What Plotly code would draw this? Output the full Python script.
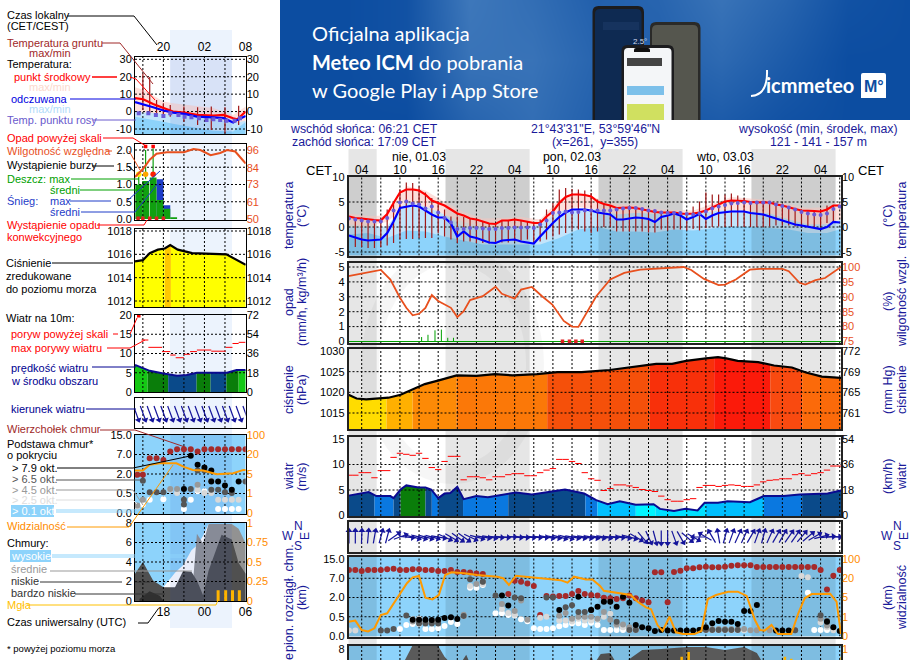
import numpy as np
import plotly.graph_objects as go

W, H = 910, 660
FONT = "Liberation Sans"
NAVY = "#1a1a9a"

# ---------- data, right hand (3 day) panels ----------
hours = list(range(2, 80))
t_mid = [2.1, 1.8, 1.7, 1.5, 1.4, 1.3, 2.6, 4.8, 6.9, 7.5, 7.5, 7.3, 6.5, 5.3, 4.8, 4.3, 3.5, 2.7, 2.3, 1.7,
         1.5, 1.1, 0.7, 0.6, 1.3, 1.3, 1.5, 1.3, 1.0, 0.8, 0.8, 2.1, 3.1, 4.8, 6.0, 6.5, 6.5, 6.4, 6.1, 5.1,
         4.6, 4.3, 3.8, 3.9, 3.9, 3.8, 3.5, 3.3, 3.0, 2.9, 2.9, 2.9, 2.7, 2.6, 2.7, 2.9, 3.3, 3.9, 4.5, 5.1,
         5.3, 5.3, 5.2, 5.0, 4.9, 4.9, 4.9, 4.5, 4.3, 3.9, 3.6, 3.3, 3.3, 3.2, 3.1, 3.5, 4.3, 4.3]
t_feel = [-1.7, -2.1, -2.5, -2.7, -2.6, -2.5, -1.2, 1.1, 3.8, 4.1, 4.3, 4.1, 3.3, 2.5, 1.9, 1.9, 0.7, -1.9, -0.9, -1.9,
          -2.2, -2.7, -3.1, -3.2, -2.7, -2.6, -2.5, -2.9, -3.1, -3.3, -1.9, -0.5, 0.8, 2.0, 2.9, 3.5, 3.5, 3.5, 3.3, 2.9,
          2.7, 2.5, 1.5, 1.5, 1.7, 1.9, 1.8, 1.6, 1.0, 2.0, 2.3, 2.7, 2.3, 1.5, 2.0, 2.6, 1.6, 2.3, 2.8, 3.0,
          3.1, 3.1, 3.1, 2.8, 2.7, 2.5, 2.1, 1.7, 1.3, 0.9, 0.5, 0.3, 0.1, -0.1, -0.4, 0.0, 1.0, 0.9]
t_dew = [1.7, 1.5, 1.3, 1.1, 1.1, 1.1, 1.8, 3.3, 4.9, 5.1, 4.7, 4.5, 3.7, 4.1, 2.9, 1.8, 0.9, -0.4, -0.4, -0.2,
         -0.2, -0.3, -0.4, -0.4, -0.2, -0.2, -0.1, -0.1, -0.1, -0.2, 0.5, 1.3, 2.8, 2.9, 3.1, 2.9, 3.0, 3.3, 3.3, 3.3,
         3.3, 3.3, 3.5, 3.7, 3.8, 3.8, 3.6, 3.3, 3.2, 2.9, 2.8, 2.8, 2.8, 2.6, 2.5, 2.7, 3.1, 3.7, 4.1, 4.4,
         4.7, 4.8, 4.9, 4.8, 4.9, 4.9, 4.9, 4.5, 4.2, 3.9, 3.5, 3.0, 2.7, 2.5, 2.4, 2.7, 3.6, 4.1]
ground_hours = list(range(3, 79))
ground_max = [1.5, 1.3, 1.3, 1.3, 1.3, 3.5, 5.1, 7.5, 8.9, 8.8, 8.1, 6.9, 5.8, 4.8, 3.5, 2.1, 2.1, 2.0, 1.6, 1.5,
              1.0, 0.7, 0.6, 1.3, 1.3, 1.5, 1.3, 1.0, 0.8, 1.5, 3.5, 4.8, 7.5, 7.8, 7.6, 7.5, 7.3, 6.8, 5.5, 4.8,
              4.1, 3.8, 3.9, 3.8, 3.6, 3.3, 3.1, 3.1, 3.0, 3.1, 3.0, 3.1, 2.8, 4.1, 5.1, 6.9, 6.5, 6.5, 6.5, 6.7,
              6.3, 5.8, 5.0, 5.0, 5.0, 5.0, 4.5, 4.1, 3.8, 3.5, 3.3, 3.3, 3.2, 3.6, 4.3, 4.3]
ground_min = [-4.0, -4.0, -4.2, -4.2, -4.0, -3.7, -3.2, -2.5, -2.4, -2.4, -2.2, -2.2, -2.2, -1.2, -1.9, -2.5, -3.2, -2.9, -2.9, -3.2,
              -3.2, -3.3, -3.3, -3.1, -3.1, -2.9, -2.7, -2.5, -3.2, -2.9, -2.5, -1.9, -1.5, -1.2, -0.5, -0.5, -0.9, -1.2, -0.9, 0.0,
              0.0, -0.9, -0.9, -0.9, -0.9, -0.9, -1.1, -1.1, -0.5, -0.7, -0.5, -0.5, -0.7, -0.4, -0.7, -0.2, 0.0, 0.1, 0.0, 0.0,
              0.1, 0.0, 0.0, 0.0, 0.0, 0.1, 0.3, 0.3, 0.3, 0.1, 0.1, 0.0, -0.2, 0.1, 0.8, 0.8]
band_hours = [1.9, 5, 8, 11, 14, 17, 20, 23, 26, 29, 32, 35, 38, 41, 44, 47, 50, 53, 56, 59, 62, 65, 68, 71, 74, 77, 79.2]
pink_top = [2.7, 2.2, 2.3, 8.2, 7.3, 5.0, 3.0, 1.7, 1.8, 2.0, 1.5, 5.5, 7.0, 5.7, 4.6, 4.4, 3.6, 3.4, 3.3, 4.6, 6.0, 5.7, 5.4, 4.5, 3.8, 4.0, 4.8]
pink_bot = [0.5, 0.3, 1.0, 4.5, 4.0, 2.5, 1.0, 0.0, 0.0, 0.0, 0.3, 3.0, 4.0, 3.5, 2.5, 2.8, 2.6, 2.0, 2.0, 3.0, 3.5, 3.1, 2.7, 1.5, 0.5, 0.5, 1.5]
feel_top = [0.0, 0.0, 0.1, 5.1, 4.1, 2.5, 0.0, 0.0, 0.0, 0.0, 0.5, 3.1, 3.8, 3.5, 2.5, 2.8, 2.6, 2.8, 2.5, 3.1, 3.5, 3.1, 2.7, 1.5, 0.5, 0.5, 1.5]
feel_bot = [-1.5, -1.2, -2.2, -0.7, -0.9, -1.9, -2.7, -3.5, -3.5, -3.5, -3.5, -2.2, -0.5, 0.0, -0.9, -0.9, -1.1, -0.5, -0.7, -0.3, 0.1, 0.0, -0.2, -0.5, -1.2, -1.2, -0.4]

rh_hours = [1.9, 4, 7, 8.5, 10, 11, 12, 13, 14, 15, 16, 18, 19, 20, 21, 23, 25, 26, 28, 29, 30.7, 32.3, 33.9, 35.7, 37, 38,
            39.5, 40.8, 43, 45.2, 47.7, 51.5, 54.5, 55.7, 57.7, 60, 61, 62.7, 64.9, 66.5, 70, 71, 72.7, 73.6, 75.2, 76.7, 79.2]
rh_vals = [96.9, 97.8, 99.0, 95.8, 89.7, 86.3, 83.8, 84.3, 86.3, 90.6, 88.6, 86.3, 83.2, 85.2, 88.9, 90.2, 93.4, 91.0, 89.4, 92.4, 93.3, 90.2, 87.4, 81.9, 80.0, 79.9,
           85.2, 90.2, 95.8, 98.0, 99.1, 99.7, 100.0, 99.0, 96.0, 93.9, 94.1, 95.8, 99.1, 99.4, 99.4, 98.6, 94.7, 94.1, 95.6, 96.3, 100.0]
rain_hours = [13.4, 14.4, 15.5, 16.5, 17.5, 18.4]
rain_vals = [0.3, 0.45, 0.75, 0.8, 0.25, 0.25]
conv_hours = [35.5, 36.6, 37.6, 38.6]

press_hours = [1.93, 3.2, 4.7, 8.2, 10.1, 12, 13.9, 16.1, 18.9, 22, 24.9, 27.7, 31.5, 34.7, 38.5, 42.9, 46.7, 50.2, 52.7, 54.9, 58, 59.9, 61.2, 63, 66.2, 68.7, 71.5, 73.7, 76.2, 79.2]
press_vals = [1019.4, 1018.5, 1018.3, 1018.7, 1019.4, 1020.7, 1022.0, 1022.9, 1024.1, 1024.0, 1024.4, 1024.1, 1024.4, 1024.9, 1024.9, 1025.4, 1026.1, 1026.9, 1026.9, 1027.6, 1028.2, 1028.5, 1028.2, 1027.6, 1027.3, 1026.5, 1026.0, 1024.8, 1023.8, 1023.5]
press_edges = [1.93, 7.9, 12, 18.9, 33.1, 49.2, 59.3, 68.1, 73.1, 79.2]
press_cols = ["#ffdc00", "#ffb000", "#fd8a06", "#fb7808", "#f5500a", "#f8300a", "#fb1a0a", "#f94a10", "#fb6a0a"]

wind_hours = [1.93, 4, 5.1, 6.3, 8.5, 9, 10.1, 11, 12.9, 14, 14.9, 16, 17, 17.9, 19, 20, 22, 23.8, 26, 28.2, 30.7, 32.9, 35.9, 38.9, 40.8, 42.6, 44.5, 47, 49.8, 50.8, 53, 54.8, 56.7, 57.8, 59.9, 61.4, 64.9, 67.1, 70.2, 72.7, 77.1, 79.2]
wind_vals = [3.9, 4.3, 4.6, 3.8, 3.8, 3.4, 5.1, 5.9, 5.5, 5.5, 5.1, 3.4, 4.3, 4.4, 5.6, 3.2, 3.8, 3.6, 4.1, 4.5, 4.1, 4.5, 5.1, 4.3, 3.0, 2.2, 2.8, 2.1, 2.2, 1.3, 0.9, 1.3, 1.0, 2.5, 2.5, 2.8, 2.6, 3.8, 3.8, 4.1, 4.3, 4.9]
wind_edges = [1.93, 6, 9, 10.1, 14, 15, 16, 19.9, 27, 39.1, 41, 47, 50.1, 58, 67.1, 73.1, 79.2]
wind_cols = ["#0a4a8a", "#0a78e0", "#0a4a8a", "#0a7d0a", "#0a4a8a", "#0a78e0", "#0a4a8a", "#0a78e0", "#0a4a8a", "#0a78e0", "#00bfff", "#00f5ff", "#00e0ff", "#00bfff", "#0a78e0", "#0a4a8a"]
gust_vals = [7.9, 7.9, 8.4, 8.4, 7.4, 8.8, 8.8, 11.4, 12.2, 12.0, 11.8, 12.2, 11.2, 9.4, 9.0, 10.6, 11.6, 11.6, 7.0, 7.6,
             7.6, 7.4, 7.0, 7.6, 7.6, 8.0, 8.2, 8.2, 7.8, 7.8, 8.4, 8.9, 9.2, 11.0, 11.0, 10.6, 10.2, 8.4, 7.2, 6.9,
             4.9, 5.3, 6.0, 6.0, 5.8, 5.5, 5.1, 4.9, 4.7, 3.8, 3.1, 2.8, 2.8, 3.1, 3.3, 5.5, 5.9, 5.9, 5.7, 5.9,
             6.0, 5.9, 5.7, 5.7, 6.0, 6.6, 6.9, 7.0, 7.2, 7.2, 8.0, 8.2, 7.9, 8.2, 8.4, 8.9, 9.7, 9.7]
wind_dir = [0, 0, 2, 5, 10, 15, 15, 55, 70, 95, 105, 105, 105, 105, 100, 115, 120, 125, 125, 115,
            105, 100, 100, 95, 95, 90, 95, 95, 95, 95, 95, 100, 100, 105, 105, 100, 100, 100, 100, 100,
            100, 95, 95, 100, 105, 120, 140, 155, 165, 180, 180, 160, 150, 130, 120, 270, 300, 330, 350, 15,
            20, 25, 25, 30, 20, 15, 25, 30, 30, 35, 35, 40, 50, 60, 75, 85, 90, 95]

# cloud base, y in axis levels (0 = 0 km, 1 = 0.5, 2 = 2, 3 = 7, 4 = 15 km)
top_hours = [2, 3, 4, 5, 6, 7, 8, 9, 10, 11, 12, 13, 14, 15, 16, 17, 18, 19, 20, 21, 22, 23, 27, 28, 29, 30, 31, 32, 33, 34, 35, 36, 37, 38, 39, 40, 41, 42, 43, 44, 45, 46, 47, 48, 49, 50, 51, 52, 53, 54, 55, 56, 57, 58, 59, 60, 61, 62, 63, 64, 65, 66, 67, 68, 69, 70, 71, 72, 73, 74, 75, 76, 77, 78, 79]
top_lvl = [3.43, 3.43, 3.38, 3.43, 3.43, 3.43, 3.47, 3.5, 3.43, 3.43, 3.47, 3.47, 3.43, 3.43, 3.38, 3.38, 3.43, 3.33, 3.33, 3.3, 3.25, 3.22, 2.18, 2.87, 2.82, 2.73, 2.6, 1.09, 2.08, 2.05, 2.08, 2.08, 2.18, 2.34, 2.18, 2.13, 2.1, 1.99, 1.96, 1.92, 1.96, 2.1, 1.96, 1.84, 1.75, 3.31, 3.31, 1.75, 3.33, 3.39, 3.52, 3.52, 3.57, 3.6, 3.57, 3.57, 3.6, 3.65, 3.67, 3.67, 3.67, 3.58, 3.58, 3.58, 3.58, 3.58, 3.58, 3.58, 3.58, 3.58, 3.58, 3.43, 2.42, 3.13, 3.43]
black_hours = [12, 13, 14, 15, 16, 17, 18, 19, 26, 27, 35, 38, 40, 41, 42, 43, 44, 45, 46, 47, 48, 49, 50, 51, 52, 53, 54, 55, 56, 57, 58, 59, 60, 61, 62, 63, 64, 65, 66, 69, 70, 71, 77, 78, 79]
black_lvl = [0.85, 0.85, 0.85, 0.83, 0.85, 0.93, 0.98, 0.88, 2.1, 1.58, 1.35, 2.04, 1.35, 1.52, 1.78, 1.78, 1.52, 2.04, 1.73, 0.57, 0.45, 0.4, 0.26, 0.31, 0.28, 0.28, 0.28, 0.28, 0.28, 0.31, 0.45, 0.66, 0.78, 0.74, 0.74, 0.62, 1.3, 1.3, 1.61, 0.28, 0.28, 0.28, 0.74, 0.45, 0.26]
dark_hours = [7, 8, 9, 11, 13, 14, 15, 16, 20, 21, 23, 25, 28, 29, 33, 34, 36, 37, 38, 39, 40, 44, 46, 47, 57, 58, 59, 60, 61, 62, 63, 72, 76, 77]
dark_lvl = [0.28, 0.28, 0.36, 1.06, 0.65, 0.65, 0.65, 0.65, 1.04, 2.95, 2.82, 2.1, 2.0, 1.96, 2.0, 2.0, 1.49, 1.6, 1.25, 1.25, 1.35, 0.74, 0.31, 0.31, 0.31, 0.31, 0.31, 0.31, 0.31, 0.31, 0.31, 0.3, 1.08, 0.78]
gray_hours = [12, 13, 14, 15, 16, 20, 22, 23, 26, 28, 29, 30, 35, 36, 37, 38, 39, 40, 41, 42, 43, 44, 45, 46, 47, 58, 59, 60, 61, 62, 63, 64, 65, 66, 68, 72, 76, 77]
gray_lvl = [0.75, 0.75, 0.75, 0.75, 0.75, 1.1, 2.7, 2.82, 1.66, 1.3, 1.85, 0.85, 1.05, 1.2, 0.9, 1.0, 1.0, 1.0, 0.9, 1.25, 0.85, 0.6, 0.6, 0.45, 0.36, 0.36, 0.36, 0.36, 0.36, 0.36, 0.36, 0.36, 0.3, 0.3, 0.3, 0.3, 0.9, 0.55]
light_hours = [2, 3, 12, 13, 14, 15, 16, 21, 23, 26, 27, 28, 32, 33, 35, 36, 37, 38, 39, 40, 41, 42, 43, 44, 45, 46, 47, 57, 58, 59, 60, 61, 62, 63, 64, 73, 74, 76, 77, 78]
light_lvl = [0.28, 0.28, 0.87, 0.9, 0.7, 0.75, 0.8, 2.6, 2.7, 1.4, 1.2, 1.1, 0.95, 1.0, 0.8, 0.8, 0.75, 0.9, 0.8, 0.8, 0.85, 1.0, 1.15, 0.55, 0.45, 0.35, 0.31, 0.3, 0.3, 0.3, 0.3, 0.3, 0.3, 0.3, 0.3, 3.12, 3.05, 0.7, 0.45, 0.3]
white_hours = [10, 11, 12, 13, 14, 15, 16, 17, 18, 19, 20, 21, 22, 23, 25, 26, 27, 28, 29, 30, 31, 32, 33, 34, 35, 36, 37, 38, 39, 40, 41, 42, 43, 44, 45, 46, 61, 62, 63, 64, 74, 75, 76, 77]
white_lvl = [0.36, 0.57, 0.62, 0.62, 0.36, 0.36, 0.4, 0.52, 0.73, 0.62, 1.04, 2.51, 2.51, 2.65, 1.18, 1.18, 1.09, 1.06, 0.87, 0.76, 0.4, 0.36, 0.36, 0.4, 0.5, 0.57, 0.66, 0.66, 0.57, 0.69, 0.57, 0.31, 0.31, 0.31, 0.31, 0.31, 0.31, 0.31, 0.31, 0.31, 2.25, 0.31, 0.31, 0.31]
vis_hours = [1.93, 3, 4, 5, 6, 7, 8, 10, 11.1, 12, 13, 14, 15.1, 16.1, 17.1, 18.1, 20.1, 22.1, 25.3, 26.2, 27.1, 28.2, 30.2, 32.1, 35.2, 36.3, 37.3, 39.2, 40.2, 41.4, 42, 44.1, 46.2, 47.3, 48.6, 49.4, 50.4, 51.2, 52.3, 53.3, 54.4, 56.2, 57.3, 58.3, 59.6, 61.5, 63, 64.4, 65.7, 66.5, 67.2, 68.3, 69.3, 71.4, 72.5, 73.5, 74.6, 77.5, 78.5, 79.2]
vis_lvl = [0.74, 0.8, 0.31, 0.24, 0.4, 1.09, 1.18, 2.22, 2.74, 3.05, 3.12, 1.99, 1.9, 2.13, 3.17, 3.31, 3.26, 3.17, 3.08, 3.0, 2.65, 3.13, 3.08, 3.0, 2.9, 2.77, 3.08, 2.94, 2.94, 2.6, 2.35, 2.25, 2.13, 1.78, 1.49, 1.39, 0.57, 0.26, 1.0, 0.19, 0.1, 0.1, 0.26, 1.92, 2.13, 2.3, 2.3, 2.08, 0.83, 0.31, 0.28, 0.57, 0.1, 0.1, 1.18, 1.96, 2.18, 2.2, 1.78, 0.1]

cloud_hours = [1.93, 10.5, 12, 16, 17, 18, 19.5, 20.4, 21, 39.6, 40, 40.5, 41.5, 43, 44, 45, 46.5, 48, 51, 55, 58, 61, 64, 66, 67, 79.2]
cloud_top = [6.5, 6.5, 8.4, 8.3, 7.2, 6.5, 6.5, 7.4, 6.5, 6.5, 7.3, 6.5, 7.5, 7.6, 6.5, 6.5, 7.2, 7.9, 8.0, 8.2, 8.2, 7.9, 8.2, 7.6, 6.5, 6.5]
fog_hours = [54.2, 55.3, 70.4, 71.4, 79.3]
fog_vals = [7.2, 7.7, 7.2, 7.0, 7.2]

# ---------- data, left hand (legend) panels ----------
l_thours = [15.85, 17.05, 18.5, 20, 21.4, 23.1, 24.9, 27.3, 28.8, 30.2, 30.8, 32.03]
l_red = [7.7, 7.1, 4.4, 1.9, 0.0, -0.6, -1.9, -2.3, -1.9, -3.8, -4.4, 0.0]
l_blue = [5.4, 4.2, 2.5, 0.6, -0.6, -1.3, -2.9, -3.3, -3.8, -6.3, -4.8, -2.5]
l_dew_hours = [16.4, 17.8, 18.9, 20, 21, 22.2, 23.1, 24.1, 25.2, 26.3, 27.3, 28.3, 29.2, 30.4, 31.2]
l_dew = [-1.0, -1.0, -1.9, -2.5, -1.0, -1.9, -2.9, -3.3, -3.8, -4.8, -4.4, -4.8, -5.2, -5.2, -3.8]
l_bhours = [15.85, 17.05, 20, 21.4, 27.3, 30.2, 32.03]
l_pink_top = [14.0, 12.5, 5.8, 4.8, 2.0, -1.9, 2.9]
l_pale_top = [0.0, -0.5, -1.3, -1.6, -3.8, -6.7, -5.2]
l_sky_top = [-2.9, -3.8, -5.8, -7.0, -11.0, -11.5, -6.0]
l_ghours = [17, 18, 19, 20, 21, 23, 25, 27, 29, 31]
l_gmax = [21.8, 19.8, 6.7, 4.8, 3.8, 2.9, 2.5, 2.9, 2.5, 3.3]
l_gmin = [0.9, -1.0, -1.9, -1.9, -2.9, -5.8, -7.7, -10.6, -12.5, -7.7]
l_rh_hours = [15.85, 17.05, 18, 19, 20.5, 23, 24.4, 25.4, 26.9, 28.3, 29.3, 30.5, 32.03]
l_rh = [78, 83.5, 89.5, 93.5, 94.5, 94.5, 96.7, 96, 92.5, 94, 96, 95, 87]
l_bar_hours = [16.4, 17.4, 18.5, 19.5, 20.5, 21.5]
l_rain = [1.0, 1.1, 1.2, 0.55, 0.3, 0.05]
l_snow = [0.0, 0.0, 0.0, 1.15, 0.4, 0.0]
l_storm_hours = [16.4, 17.4, 18.5]
l_storm_cols = ["#ffee00", "#ffa500", "#ff2000"]
l_over_hours = [17.4, 18.5]
l_conv_hours = [16.3, 17, 18, 19, 20]

l_phours = [15.85, 17, 18, 19.2, 20.2, 21, 22.1, 24.2, 29.2, 32.03]
l_press = [1015.4, 1015.5, 1016.1, 1016.4, 1016.5, 1016.8, 1016.4, 1016.1, 1016.0, 1015.1]
l_press_edges = [15.85, 20.2, 21.1, 32.03]
l_press_cols = ["#ffff00", "#ffc800", "#ffff00"]

l_whours = [15.85, 17.05, 18, 20, 22, 23.4, 24.9, 27.3, 29.3, 30.7, 32.03]
l_wind = [7.0, 6.1, 5.5, 4.8, 4.2, 4.4, 5.0, 5.0, 5.0, 5.7, 5.7]
l_wind_edges = [15.85, 17.7, 20.7, 24.85, 26.9, 29.2, 31, 32.03]
l_wind_cols = ["#14c814", "#0a7d0a", "#0a4a8a", "#0a7d0a", "#0a4a8a", "#0a7d0a", "#14c814"]
l_gust_edges = [16.8, 17.8, 19.8, 21, 21.8, 23, 23.9, 24.9, 27, 29.1, 30.1, 31, 32]
l_gust = [13.5, 11.6, 10.5, 9.6, 8.9, 9.8, 10.5, 10.9, 10.6, 11.6, 12.6, 12.9]
l_dir_hours = list(range(16, 33))
l_dir = [160] * 17

l_top_hours = [16.2, 17, 18, 19, 20, 21, 22, 23, 24, 25, 26, 27, 28, 29, 30, 31, 32]
l_top = [1.96, 1.96, 2.81, 2.81, 2.72, 3.15, 3.27, 3.27, 3.27, 3.15, 3.27, 3.27, 3.27, 3.27, 3.27, 3.27, 3.27]
l_black_hours = [24, 25, 26, 27, 27, 28, 29, 30, 31, 23]
l_black = [2.93, 2.47, 2.33, 2.18, 1.62, 1.62, 1.41, 1.19, 1.62, 1.23]
l_dark_hours = [17, 18, 19, 20, 23, 23, 25, 26, 24, 27, 28, 29, 30, 32]
l_dark = [1.65, 1.07, 1.07, 1.07, 0.68, 0.43, 2.18, 2.18, 1.23, 1.19, 1.19, 1.07, 1.02, 1.62]
l_gray_hours = [16.2, 17, 21, 22, 25, 27]
l_gray = [0.39, 0.68, 1.23, 1.23, 1.45, 1.65]
l_light_hours = [16.2, 21, 22, 25, 26, 27, 28, 29, 30, 31]
l_light = [0.34, 1.19, 1.02, 1.19, 1.02, 1.02, 0.68, 0.68, 0.68, 0.68]
l_white_hours = [17, 18, 20, 23, 24, 25, 26, 27, 28, 29, 30, 31]
l_white = [0.43, 0.68, 0.71, 0.2, 0.68, 1.11, 1.11, 1.11, 0.2, 0.2, 0.2, 0.2]
l_vis_hours = [15.85, 17, 18, 19.5, 21.9, 23.1, 24.3, 25.8, 27.8, 30.2, 31.7, 32.03]
l_vis = [2.18, 2.18, 2.47, 2.55, 2.55, 2.35, 2.21, 2.18, 1.99, 2.04, 2.21, 2.21]

l_chours = [15.85, 17, 18.5, 20, 21.7, 22.9, 24.1, 24.9, 25.8, 26.6, 28.5, 30, 31, 32.03]
l_high = [0, 0, 0, 1.4, 2.9, 3.7, 5.2, 5.7, 6.7, 7.9, 7.9, 7.9, 6.7, 5.9]
l_mid = [0, 0, 0, 0, 0, 0, 0, 6.9, 5.9, 7.9, 7.9, 7.9, 7.4, 5.9]
l_low = [2.8, 4.0, 2.1, 1.4, 1.4, 3.1, 3.0, 2.1, 0.6, 3.1, 6.8, 6.3, 3.9, 2.8]
l_vlow_hours = [16.5, 18, 19.5, 20]
l_vlow = [0.2, 1.0, 0.5, 0.0]
l_fog_hours = [28, 29.1, 30.1, 31.1]
l_fog = [1.1, 1.1, 1.1, 1.1]

banner_shade = [[0, 0, 0.1, 0.9, 0.7, 0.4, 0.5, 0.8, 0.5, 0.1, 0],
                [0, 0, 0.1, 0.8, 0.8, 0.5, 0.4, 0.6, 0.3, 0, 0],
                [0, 0, 0, 0.5, 0.7, 0.4, 0.2, 0.3, 0.1, 0, 0]]

fig = go.Figure()
annots = []
shapes = []


def fx(x):
    return x / W


def fy(y):
    return 1 - y / H


def rng(top, bot, a, b):
    # axis range from two known (value, pixel) pairs
    per_px = (a[0] - b[0]) / (b[1] - a[1])
    return [a[0] - (bot - a[1]) * per_px, a[0] + (a[1] - top) * per_px]


naxis = 0


def panel(x0, x1, top, bot, xrange, yrange, yticks, yshow, rrange, rticks, rshow, rcolor="black",
          xticks=None, xshow=None, xside="bottom", border="#222222", bwidth=1.5, stand=0):
    global naxis
    naxis += 1
    n = naxis
    yl, yr = 2 * n - 1, 2 * n
    xname = "x" if n == 1 else "x%d" % n
    ylname = "y" if yl == 1 else "y%d" % yl
    yrname = "y%d" % yr
    tfont = dict(family=FONT, size=11, color="black")
    fig.layout["xaxis" if n == 1 else "xaxis%d" % n] = dict(
        domain=[fx(x0), fx(x1)], range=xrange, anchor=ylname, side=xside, showgrid=False, zeroline=False,
        showline=True, mirror=True, linecolor=border, linewidth=bwidth, ticks="", ticklabelstandoff=stand,
        tickmode="array", tickvals=xticks or [], ticktext=xshow or [], tickfont=dict(family=FONT, size=12, color="black"))
    fig.layout["yaxis" if yl == 1 else "yaxis%d" % yl] = dict(
        domain=[fy(bot), fy(top)], range=yrange, anchor=xname, showgrid=False, zeroline=False,
        showline=True, mirror=True, linecolor=border, linewidth=bwidth, ticks="",
        tickmode="array", tickvals=yticks, ticktext=yshow, tickfont=tfont)
    fig.layout["yaxis%d" % yr] = dict(
        domain=[fy(bot), fy(top)], range=rrange, anchor=xname, overlaying=ylname, side="right",
        showgrid=False, zeroline=False, ticks="", tickmode="array", tickvals=rticks, ticktext=rshow,
        tickfont=dict(family=FONT, size=11, color=rcolor))
    fig.add_trace(go.Scatter(x=[None], y=[None], xaxis=xname, yaxis=yrname, showlegend=False))
    return dict(x=xname, y=ylname, r=yrname, xr=xrange, yr=yrange, rr=rrange)


def line(p, x, y, color, width=1.0, right=False, dash=None):
    fig.add_trace(go.Scatter(x=x, y=y, xaxis=p["x"], yaxis=p["r"] if right else p["y"], mode="lines",
                             line=dict(color=color, width=width, dash=dash), connectgaps=False,
                             hoverinfo="skip", showlegend=False))


def dots(p, x, y, color, size=6, symbol="circle", right=False, clip=True):
    fig.add_trace(go.Scatter(x=x, y=y, xaxis=p["x"], yaxis=p["r"] if right else p["y"], mode="markers",
                             marker=dict(color=color, size=size, symbol=symbol, line=dict(width=0)),
                             hoverinfo="skip", showlegend=False, cliponaxis=clip))


def area(p, x, hi, lo, color):
    # hi and lo are either a list or one number
    if not isinstance(lo, list):
        lo = [lo] * len(x)
    fig.add_trace(go.Scatter(x=list(x) + list(x)[::-1], y=list(hi) + list(lo)[::-1], xaxis=p["x"], yaxis=p["y"],
                             fill="toself", fillcolor=color, mode="none", hoverinfo="skip", showlegend=False))


def rect(p, a, b, color, lo=None, hi=None):
    lo = p["yr"][0] if lo is None else lo
    hi = p["yr"][1] if hi is None else hi
    area(p, [a, b], [hi, hi], lo, color)


def bands(p, xs, ys, edges, cols, base):
    # fill under a line, colour changes at the edges
    for i, c in enumerate(cols):
        a, b = edges[i], edges[i + 1]
        px = [a] + [h for h in xs if a < h < b] + [b]
        py = np.interp(px, xs, ys).tolist()
        area(p, px, py, base, c)


def grid(p, vx, hy):
    xs, ys = [], []
    for v in vx:
        xs += [v, v, None]
        ys += [p["yr"][0], p["yr"][1], None]
    for v in hy:
        xs += [p["xr"][0], p["xr"][1], None]
        ys += [v, v, None]
    line(p, xs, ys, "black", 1, dash="2px,2px")


def segs(p, edges_a, edges_b, vals, color, width=1.0):
    xs, ys = [], []
    for a, b, v in zip(edges_a, edges_b, vals):
        xs += [a, b, None]
        ys += [v, v, None]
    line(p, xs, ys, color, width)


def vbars(p, x, lo, hi, color, width=1.2):
    xs, ys = [], []
    for h, a, b in zip(x, lo, hi):
        xs += [h, h, None]
        ys += [a, b, None]
    line(p, xs, ys, color, width)


def arrows(p, x, deg, length, px_per_hour, color, size):
    # compass arrows, y axis of the panel is in pixels
    xs, ys, hx, hy = [], [], [], []
    for h, d in zip(x, deg):
        dx = np.sin(np.radians(d)) * length / 2 / px_per_hour
        dy = np.cos(np.radians(d)) * length / 2
        xs += [h - dx, h + dx, None]
        ys += [-dy, dy, None]
        hx.append(h + dx)
        hy.append(dy)
    line(p, xs, ys, color, 1.2)
    fig.add_trace(go.Scatter(x=hx, y=hy, xaxis=p["x"], yaxis=p["y"], mode="markers", hoverinfo="skip", showlegend=False,
                             cliponaxis=False, marker=dict(symbol="triangle-up", size=size, color=color, angle=deg, line=dict(width=0))))


def label(x, y, text, color="black", anchor="left", size=12, angle=0, bg=None, family=FONT):
    annots.append(dict(x=fx(x), y=fy(y), xref="paper", yref="paper", text=text, showarrow=False, xanchor=anchor,
                       yanchor="middle", textangle=angle, bgcolor=bg, borderpad=0,
                       font=dict(family=family, size=size, color=color)))


def leader(pts, color, width=1):
    for (a, b), (c, d) in zip(pts[:-1], pts[1:]):
        shapes.append(dict(type="line", xref="paper", yref="paper", x0=fx(a), y0=fy(b), x1=fx(c), y1=fy(d),
                           line=dict(color=color, width=width), layer="above"))


def box(x0, y0, x1, y1, color, r=0, layer="above"):
    if r:
        a, b, c, d = fx(x0), fy(y0), fx(x1), fy(y1)
        rx, ry = r / W, r / H
        path = "M %f %f L %f %f Q %f %f %f %f L %f %f Q %f %f %f %f L %f %f Z" % (
            a, d, a, b - ry, a, b, a + rx, b, c - rx, b, c, b, c, b - ry, c, d)
        shapes.append(dict(type="path", path=path, xref="paper", yref="paper", fillcolor=color, layer=layer,
                           line=dict(width=0)))
    else:
        shapes.append(dict(type="rect", xref="paper", yref="paper", x0=fx(x0), y0=fy(y0), x1=fx(x1), y1=fy(y1),
                           fillcolor=color, layer=layer, line=dict(width=0)))


# ---------- panel frames ----------
RX0, RX1 = 348.5, 841
RXR = [1.93, 79.2]
LX0, LX1 = 135, 245.7
LXR = [15.85, 32.03]
vgrid = list(range(4, 80, 3))
lgrid = [17, 20, 23, 26, 29]
top_ticks = [h for h in vgrid if (h - 4) % 6 == 0]
top_text = ["%02d" % (h % 24) for h in top_ticks]
NIGHT = [(1.93, 6.35), (17.15, 30.35), (41.15, 54.35), (65.15, 78.35)]
SKY = "#8dd3fb"
DIM = "rgba(0,0,0,0.10)"
LDIM = "rgba(40,80,200,0.10)"

# banner
fig.add_trace(go.Heatmap(z=banner_shade, colorscale=[[0, "#0c4da1"], [1, "#437cbd"]], zmin=0, zmax=1, zsmooth="best",
                         showscale=False, xaxis="x99", yaxis="y99", hoverinfo="skip"))
fig.layout["xaxis99"] = dict(domain=[fx(280), 1], visible=False, anchor="y99", range=[0, 10])
fig.layout["yaxis99"] = dict(domain=[fy(120), 1], visible=False, anchor="x99", range=[2, 0])

# day/night strips behind everything
for a, b in NIGHT:
    x0 = fx(RX0 + (a - RXR[0]) * (RX1 - RX0) / (RXR[1] - RXR[0]))
    x1 = fx(RX0 + (b - RXR[0]) * (RX1 - RX0) / (RXR[1] - RXR[0]))
    shapes.append(dict(type="rect", xref="paper", yref="paper", x0=x0, x1=x1, y0=0, y1=fy(149), fillcolor="#e6e6e6",
                       line=dict(width=0), layer="below"))
box(170, 30, 232, 628, "#ecf3fd", layer="below")
# faint watermark ring behind the right hand panels
shapes.append(dict(type="circle", xref="paper", yref="paper", x0=fx(370), x1=fx(535), y0=fy(475), y1=fy(255), layer="below",
                   line=dict(color="rgba(0,0,0,0.035)", width=18)))

# ---------- right: temperature ----------
p = panel(RX0, RX1, 177, 255.5, RXR, rng(177, 255.5, (10, 177), (-5, 252)), [10, 5, 0, -5], ["10", "5", "0", "-5"],
          rng(177, 255.5, (10, 177), (-5, 252)), [10, 5, 0, -5], ["10", "5", "0", "-5"],
          xticks=top_ticks, xshow=top_text, xside="top", stand=-4)
area(p, band_hours, pink_top, pink_bot, "#fde0dc")
area(p, band_hours, feel_top, p["yr"][0], "#c2e4fb")
area(p, band_hours, feel_bot, p["yr"][0], SKY)
for a, b in NIGHT:
    rect(p, a, b, DIM)
rect(p, RXR[0], RXR[1], "#1f4f70", p["yr"][0], -5.65)
grid(p, vgrid, [5, 0, -5])
vbars(p, ground_hours, ground_min, ground_max, "#a01818")
line(p, hours, t_mid, "#ff0000", 2.2)
line(p, hours, t_feel, "#0000ff", 2.2)
dots(p, hours, t_dew, "#6a5ad8", 4)

# ---------- right: precipitation / humidity ----------
p = panel(RX0, RX1, 263, 343, RXR, rng(263, 343, (5, 267), (0, 341.5)), [5, 4, 3, 2, 1, 0], ["5", "4", "3", "2", "1", "0"],
          rng(263, 343, (100, 267), (75, 341.5)), [100, 95, 90, 85, 80, 75], ["100", "95", "90", "85", "80", "75"], rcolor="#e8501e")
grid(p, vgrid, [4, 3, 2, 1, 5])
vbars(p, rain_hours, [0] * 6, rain_vals, "#00a000", 1)
line(p, RXR, [0, 0], "#00a000", 1)
dots(p, conv_hours, [0.02] * 4, "#e02020", 3.5, "square")
line(p, rh_hours, rh_vals, "#e8501e", 1.8, right=True)

# ---------- right: pressure ----------
p = panel(RX0, RX1, 349, 429, RXR, rng(349, 429, (1030, 351), (1015, 413)), [1030, 1025, 1020, 1015], ["1030", "1025", "1020", "1015"],
          rng(349, 429, (1030, 351), (1015, 413)), [1030, 1025, 1020, 1015], ["772", "769", "765", "761"])
bands(p, press_hours, press_vals, press_edges, press_cols, p["yr"][0])
grid(p, vgrid, [1025, 1020, 1015])
line(p, press_hours, press_vals, "black", 2.2)

# ---------- right: wind ----------
p = panel(RX0, RX1, 437, 516, RXR, rng(437, 516, (15, 439), (0, 515.5)), [15, 10, 5, 0], ["15", "10", "5", "0"],
          rng(437, 516, (15, 439), (0, 515.5)), [15, 10, 5, 0], ["54", "36", "18", "0"])
bands(p, wind_hours, wind_vals, wind_edges, wind_cols, p["yr"][0])
grid(p, vgrid, [10, 5])
line(p, wind_hours, wind_vals, "#0a0a90", 2)
segs(p, [h - 0.5 for h in hours], [h + 0.5 for h in hours], gust_vals, "#ff0000", 1)

# ---------- right: wind direction ----------
p = panel(RX0, RX1, 522, 552, RXR, [-15, 15], [], [], [-15, 15], [], [])
grid(p, vgrid, [])
arrows(p, hours, wind_dir, 13, 6.375, "#14149a", 6)

# ---------- right: cloud base ----------
base_ticks = [4, 3, 2, 1, 0]
p = panel(RX0, RX1, 557, 636.5, RXR, rng(557, 636.5, (4, 559), (0, 636)), base_ticks, ["15.0", "7.0", "2.0", "0.5", "0.0"],
          rng(557, 636.5, (4, 559), (0, 636)), base_ticks, ["100", "20", "5", "1", "0"], rcolor="#ff8c00")
rect(p, RXR[0], RXR[1], SKY)
for a, b in NIGHT:
    rect(p, a, b, DIM)
grid(p, vgrid, [3, 2, 1])
dots(p, top_hours, top_lvl, "#a52a2a")
dots(p, white_hours, white_lvl, "white")
dots(p, light_hours, light_lvl, "#d8d8d8")
dots(p, gray_hours, gray_lvl, "#999999")
dots(p, dark_hours, dark_lvl, "#555555")
dots(p, black_hours, black_lvl, "black")
line(p, vis_hours, vis_lvl, "#ff9a00", 2)

# ---------- right: clouds (cut by the window) ----------
p = panel(RX0, RX1, 646, 660, RXR, rng(646, 660, (8, 649), (0, 727)), [8], ["8"],
          rng(646, 660, (1, 649), (0, 727)), [1], ["1"], rcolor="#ff8c00")
rect(p, RXR[0], RXR[1], SKY)
area(p, cloud_hours, cloud_top, 6.5, "#5a5a5a")
for a, b in NIGHT:
    rect(p, a, b, DIM)
grid(p, vgrid, [])
vbars(p, fog_hours, [6.5] * 5, fog_vals, "#ffb400", 2.5)

# ---------- left: temperature ----------
p = panel(LX0, LX1, 57, 134, LXR, rng(57, 134, (30, 59.3), (-10, 129)), [30, 20, 10, 0, -10], ["30", "20", "10", "0", "-10"],
          rng(57, 134, (30, 59.3), (-10, 129)), [30, 20, 10, 0, -10], ["30", "20", "10", "0", "-10"],
          xticks=[20, 26, 32], xshow=["20", "02", "08"], xside="top", border="black", bwidth=1)
lo = p["yr"][0]
area(p, l_bhours, l_pink_top, lo, "#fde0dc")
area(p, l_bhours, l_pale_top, lo, "#c2e4fb")
area(p, l_bhours, l_sky_top, lo, SKY)
rect(p, 21, 30, LDIM)
grid(p, lgrid, [20, 10, 0, -10, 30])
vbars(p, l_ghours, l_gmin, l_gmax, "#a01818")
line(p, l_thours, l_red, "#ff0000", 2.2)
line(p, l_thours, l_blue, "#0000ff", 2.2)
dots(p, l_dew_hours, l_dew, "#6a5ad8", 4, "square")

# ---------- left: precipitation ----------
p = panel(LX0, LX1, 144, 220, LXR, rng(144, 220, (2, 150), (0, 219)), [2, 1.5, 1, 0.5, 0], ["2.0", "1.5", "1.0", "0.5", "0.0"],
          rng(144, 220, (96, 150), (50, 219)), [96, 84, 73, 61, 50], ["96", "84", "73", "61", "50"], rcolor="#e8501e",
          border="black", bwidth=1)
for h, v in zip(l_bar_hours, l_snow):
    if v:
        rect(p, h - 0.5, h + 0.5, "#1e3cc8", 0, v)
for h, v in zip(l_bar_hours, l_rain):
    rect(p, h - 0.5, h + 0.5, "#10a010", 0, v)
grid(p, lgrid, [1.5, 1, 0.5, 2])
vbars(p, l_storm_hours, [1.0, 1.15, 1.2], [1.35, 2.0, 2.05], "#10a010")
dots(p, l_storm_hours, [1.3, 1.3, 1.3], l_storm_cols, 5.5, "circle")
dots(p, l_over_hours, [2.1, 2.1], "#ff0000", 3.5, "square")
dots(p, l_conv_hours, [0.02] * 5, "#e02020", 3.5, "square")
line(p, l_rh_hours, l_rh, "#e8501e", 2, right=True)

# ---------- left: pressure ----------
p = panel(LX0, LX1, 229, 307, LXR, rng(229, 307, (1018, 231), (1012, 301)), [1018, 1016, 1014, 1012], ["1018", "1016", "1014", "1012"],
          rng(229, 307, (1018, 231), (1012, 301)), [1018, 1016, 1014, 1012], ["1018", "1016", "1014", "1012"], border="black", bwidth=1)
bands(p, l_phours, l_press, l_press_edges, l_press_cols, p["yr"][0])
grid(p, lgrid, [1018, 1016, 1014, 1012])
line(p, l_phours, l_press, "black", 2.2)

# ---------- left: wind ----------
p = panel(LX0, LX1, 315, 392, LXR, rng(315, 392, (20, 315), (0, 392)), [20, 15, 10, 5, 0], ["20", "15", "10", "5", "0"],
          rng(315, 392, (20, 315), (0, 392)), [20, 15, 10, 5, 0], ["72", "54", "36", "18", "0"], border="black", bwidth=1)
bands(p, l_whours, l_wind, l_wind_edges, l_wind_cols, p["yr"][0])
grid(p, lgrid, [15, 10, 5])
line(p, l_whours, l_wind, "#0a0a90", 2)
segs(p, l_gust_edges[:-1], l_gust_edges[1:], l_gust, "#ff0000")
dots(p, [16.4], [19.8], "#ff0000", 3.5, "square", clip=False)

# ---------- left: wind direction ----------
p = panel(LX0, LX1, 398, 428, LXR, [-15, 15], [], [], [-15, 15], [], [], border="black", bwidth=1)
grid(p, lgrid, [])
arrows(p, l_dir_hours, l_dir, 15, 6.83, "#14149a", 6)

# ---------- left: cloud base ----------
p = panel(LX0, LX1, 435, 514, LXR, rng(435, 514, (4, 435), (0, 513)), base_ticks, ["15.0", "7.0", "2.0", "0.5", "0.0"],
          rng(435, 514, (4, 435), (0, 513)), base_ticks, ["100", "20", "5", "1", "0"], rcolor="#ff8c00", border="black", bwidth=1)
rect(p, LXR[0], LXR[1], SKY)
rect(p, 21, 30, LDIM)
grid(p, lgrid, [3, 2, 1])
dots(p, l_top_hours, l_top, "#a52a2a")
dots(p, l_white_hours, l_white, "white")
dots(p, l_light_hours, l_light, "#d8d8d8")
dots(p, l_gray_hours, l_gray, "#999999")
dots(p, l_dark_hours, l_dark, "#555555")
dots(p, l_black_hours, l_black, "black")
line(p, l_vis_hours, l_vis, "#ff9a00", 2)

# ---------- left: clouds ----------
p = panel(LX0, LX1, 523, 601, LXR, rng(523, 601, (8, 523), (0, 601)), [8, 6, 4, 2, 0], ["8", "6", "4", "2", "0"],
          rng(523, 601, (1, 523), (0, 601)), [1, 0.75, 0.5, 0.25, 0], ["1", "0.75", "0.5", "0.25", "0"], rcolor="#ff8c00",
          xticks=[20, 26, 32], xshow=["18", "00", "06"], border="black", bwidth=1)
rect(p, LXR[0], LXR[1], SKY)
area(p, l_chours, l_high, 0, "white")
area(p, l_chours, l_mid, 0, "#929292")
area(p, l_chours, l_low, 0, "#505050")
area(p, l_vlow_hours, l_vlow, 0, "#303030")
rect(p, 21, 30, LDIM)
grid(p, lgrid, [6, 4, 2])
vbars(p, l_fog_hours, [0] * 4, l_fog, "#ffb400", 3)

# ---------- texts ----------
for x, y, t, c in [(6, 15, "Czas lokalny", "black"), (6, 26, "(CET/CEST)", "black"),
                   (6, 43, "Temperatura gruntu", "#a02828"), (28, 53, "max/min", "#a02828"),
                   (6, 64, "Temperatura:", "black"), (13, 77, "punkt środkowy", "#ff0000"),
                   (28, 87, "max/min", "#fcd9cd"), (10, 99, "odczuwana", "#0000e0"),
                   (28, 109, "max/min", "#b0dcfa"), (6, 120, "Temp. punktu rosy", "#6a5acd"),
                   (6, 138, "Opad powyżej skali", "#ff0000"), (6, 151, "Wilgotność względna", "#e8501e"),
                   (6, 165, "Wystąpienie burzy", "black"), (6, 179, "Deszcz: max", "#00a000"), (49, 190, "średni", "#00a000"),
                   (6, 201, "Śnieg:", "#1e3cc8"), (49, 201, "max", "#1e3cc8"), (49, 212, "średni", "#1e3cc8"),
                   (6, 225, "Wystąpienie opadu", "#ff0000"), (6, 237, "konwekcyjnego", "#ff0000"),
                   (5, 263, "Ciśnienie", "black"), (5, 276, "zredukowane", "black"), (5, 289, "do poziomu morza", "black"),
                   (5, 318, "Wiatr na 10m:", "black"), (10, 334, "poryw powyżej skali", "#ff0000"),
                   (10, 348, "max porywy wiatru", "#ff0000"), (10, 368, "prędkość wiatru", "#000090"),
                   (10, 381, "w środku obszaru", "#000090"), (10, 409, "kierunek wiatru", "#000090"),
                   (6, 429, "Wierzchołek chmur", "#a02828"), (6, 444, "Podstawa chmur*", "black"), (6, 455, "o pokryciu", "black"),
                   (11, 468, "> 7.9 okt.", "black"), (11, 479, "> 6.5 okt.", "#555555"), (11, 490, "> 4.5 okt.", "#999999"),
                   (11, 500, "> 2.5 okt.", "#dddddd"), (6, 526, "Widzialność", "#ff8c00"), (6, 543, "Chmury:", "black"),
                   (10, 569, "średnie", "#999999"), (10, 581, "niskie", "#333333"), (10, 593, "bardzo niskie", "#333333"),
                   (6, 605, "Mgła", "#ffc000"), (6, 622, "Czas uniwersalny (UTC)", "black")]:
    label(x, y, t, c, size=11)
box(11, 505, 54, 517, SKY, layer="below")
label(11, 511, "> 0.1 okt.", "white", size=11)
box(10, 550, 51, 562, SKY, layer="below")
label(10, 556, "wysokie", "white", size=11)
label(6, 648, "* powyżej poziomu morza", "black", size=9.5)

leader([(67, 16), (134, 16), (157, 45)], "black")
leader([(102, 43), (120, 43), (153, 84)], "#a02828")
leader([(92, 77), (117, 77)], "#ff0000", 1.5)
leader([(130, 77), (136, 79), (155, 100)], "#ff0000")
leader([(70, 99), (136, 99)], "#0000e0")
leader([(93, 120), (136, 120)], "#6a5acd")
leader([(103, 138), (133, 138), (146, 146)], "#ff0000")
leader([(106, 151), (112, 151)], "#e8501e")
leader([(129, 151), (140, 170)], "#e8501e")
leader([(92, 166), (114, 166)], "black")
leader([(128, 166), (135, 172)], "black")
leader([(71, 179), (139, 179)], "#00a000")
leader([(80, 190), (145, 190)], "#00a000")
leader([(70, 201), (111, 201)], "#1e3cc8")
leader([(127, 201), (160, 171)], "#1e3cc8")
leader([(81, 212), (135, 212), (160, 181)], "#1e3cc8")
leader([(97, 225), (144, 225), (147, 220)], "#ff0000")
leader([(52, 263), (133, 263)], "black")
leader([(113, 334), (118, 334)], "#ff0000")
leader([(130, 334), (137, 318)], "#ff0000")
leader([(107, 348), (130, 348), (145, 340)], "#ff0000")
leader([(92, 367), (136, 367)], "#000090")
leader([(86, 409), (136, 409)], "#000090")
leader([(100, 430), (135, 430), (185, 447)], "#a02828")
leader([(57, 468), (133, 468), (190, 456)], "black")
leader([(56, 480), (143, 480)], "#555555")
leader([(56, 490), (133, 490), (143, 505)], "#999999")
leader([(56, 500), (133, 500), (137, 504)], "#dddddd")
leader([(56, 510), (136, 510)], SKY)
leader([(56, 512), (136, 512)], SKY)
leader([(67, 527), (129, 527), (173, 465)], "#ff9a00")
leader([(52, 555), (186, 555)], SKY)
leader([(52, 557), (186, 557)], SKY)
leader([(50, 571), (192, 571)], "#999999")
leader([(40, 582), (122, 582)], "#333333")
leader([(135, 582), (150, 582)], "#333333")
leader([(75, 594), (165, 594)], "#333333")
leader([(27, 605), (216, 605), (218, 600)], "#ffc000")
leader([(138, 623), (148, 623), (158, 609)], "black")

label(289, 129, "wschód słońca: 06:21 CET", NAVY, size=12.3)
label(291, 142, "zachód słońca: 17:09 CET", NAVY, size=12.3)
label(595, 129, "21°43'31\"E, 53°59'46\"N", NAVY, "center", size=12.3)
label(595, 142, "(x=261,  y=355)", NAVY, "center", size=12.3)
label(818, 129, "wysokość (min, środek, max)", NAVY, "center", size=12.3)
label(818, 142, "121 - 141 - 157 m", NAVY, "center", size=12.3)
label(419, 157, "nie, 01.03", anchor="center", size=12.3)
label(572, 157, "pon, 02.03", anchor="center", size=12.3)
label(725, 157, "wto, 03.03", anchor="center", size=12.3)
label(319, 170, "CET", anchor="center", size=13)
label(871, 170, "CET", anchor="center", size=13)

for yc, l1, l2, r1, r2 in [(216, "temperatura", "(°C)", "(°C)", "temperatura"),
                           (302, "opad", "(mm/h, kg/m³/h)", "(%)", "wilgotność wzgl."),
                           (390, "ciśnienie", "(hPa)", "(mm Hg)", "ciśnienie"),
                           (477, "wiatr", "(m/s)", "(km/h)", "wiatr"),
                           (598, "pion. rozciągł. chm.", "(km)", "(km)", "widzialność")]:
    label(289, yc, l1, NAVY, "center", angle=-90, size=12.5)
    label(302, yc, l2, NAVY, "center", angle=-90, size=12.5)
    label(888, yc, r1, NAVY, "center", angle=-90, size=12.5)
    label(902, yc, r2, NAVY, "center", angle=-90, size=12.5)
label(289, 657, "e", NAVY, "center", angle=-90, size=12.5)

for x0 in (288, 887):
    label(x0, 536, "W", NAVY, "center")
    label(x0 + 10, 526, "N", NAVY, "center")
    label(x0 + 10, 546, "S", NAVY, "center")
    label(x0 + 17, 536, "E", NAVY, "center", angle=-90)

# ---------- banner contents ----------
label(311, 33, "Oficjalna aplikacja", "white", size=20, family="Lato")
label(311, 62, "<b>Meteo ICM</b> do pobrania", "white", size=20, family="Lato")
label(311, 90, "w Google Play i App Store", "white", size=20, family="Lato")
box(592.5, 6, 644, 120, "#1c1c1e", 6)
box(595, 9, 641.5, 120, "#0e2a52", 5)
box(650, 22, 700.5, 120, "#2a2a28", 6)
box(652, 25, 698, 120, "#55564e", 5)
box(621.5, 45, 674, 120, "#1c1c1e", 6)
box(624, 48, 671.5, 120, "#f4f6f8", 4)
box(627, 58, 662, 66, "#444444")
box(627, 86, 664, 95, "#7cc0ea")
box(627, 104, 664, 120, "#d0e060")
box(634, 48, 650, 52, "#111111", 2)
box(603, 22, 639, 30, "#16335e")
label(632, 42, "2.5°", "#d0dcee", size=8)
box(861, 73, 886, 98, "white", 2)
label(873.5, 86, "<b>M°</b>", "#0c4da1", "center", size=16)
label(765, 85, "<b>icmmeteo</b>", "white", size=20, family="Lato")
shapes.append(dict(type="path", xref="paper", yref="paper", line=dict(color="white", width=2), layer="above",
                   path="M %f %f Q %f %f %f %f" % (fx(751), fy(96), fx(768), fy(95), fx(767), fy(70))))

fig.update_layout(width=W, height=H, margin=dict(l=0, r=0, t=0, b=0, pad=0, autoexpand=False), paper_bgcolor="white", plot_bgcolor="rgba(0,0,0,0)",
                  showlegend=False, annotations=annots, shapes=shapes, font=dict(family=FONT, size=12), hovermode=False)
fig.write_html("out.html", config={"displayModeBar": False},
               post_script="document.body.style.margin='0';document.body.style.overflow='hidden';")
